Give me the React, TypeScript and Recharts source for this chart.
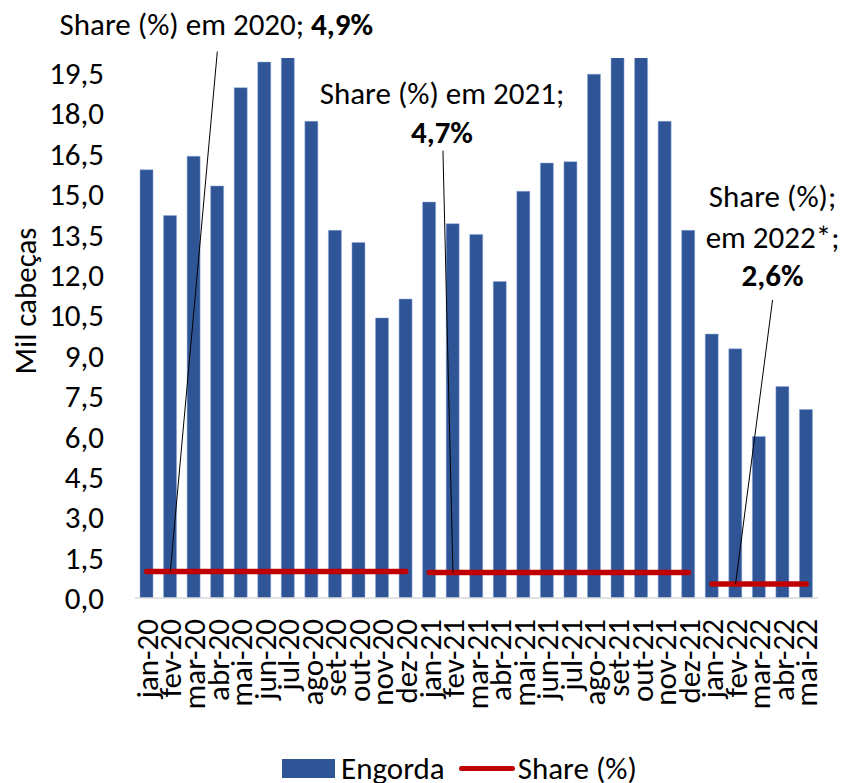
import React from "react";
import {
  ComposedChart,
  Bar,
  Line,
  XAxis,
  YAxis,
  LabelList,
} from "recharts";

const months = [
  "jan-20", "fev-20", "mar-20", "abr-20", "mai-20", "jun-20", "jul-20", "ago-20",
  "set-20", "out-20", "nov-20", "dez-20",
  "jan-21", "fev-21", "mar-21", "abr-21", "mai-21", "jun-21", "jul-21", "ago-21",
  "set-21", "out-21", "nov-21", "dez-21",
  "jan-22", "fev-22", "mar-22", "abr-22", "mai-22",
];

// mil cabeças
const engorda = [
  15.9, 14.2, 16.4, 15.3, 18.95, 19.9, 20.6, 17.7,
  13.65, 13.2, 10.4, 11.1,
  14.7, 13.9, 13.5, 11.75, 15.1, 16.15, 16.2, 19.45,
  20.7, 20.6, 17.7, 13.65,
  9.8, 9.25, 6.0, 7.85, 7.0,
];

// share anual (%)
const shareYears = ["20", "21", "22"];
const shareValues = [4.9, 4.7, 2.6];

const yTicks = [0, 1.5, 3, 4.5, 6, 7.5, 9, 10.5, 12, 13.5, 15, 16.5, 18, 19.5];

const FONT = "Carlito, 'Liberation Sans', Arial, sans-serif";
const FS = 31;
const BLUE = "#2F5597";
const RED = "#C00000";

const data = months.map((m, i) => {
  const row: Record<string, string | number | null> = { month: m, engorda: engorda[i] };
  shareYears.forEach((yr, k) => {
    row[`s${yr}`] = m.endsWith(yr) ? shareValues[k] : null;
  });
  return row;
});

const fmt = (v: number) => v.toFixed(1).replace(".", ",");

// annotation layout: offsets from the labelled point
const annotations = [
  { at: "fev-20", lineTo: [47, -520], textX: 46, lines: [["Share (%) em 2020; ", true]], baselines: [-537] },
  { at: "fev-21", lineTo: [-10, -422], textX: -11, lines: [["Share (%) em 2021;", false], ["", true]], baselines: [-469, -430] },
  { at: "fev-22", lineTo: [37, -284], textX: 37, lines: [["Share (%);", false], ["em 2022*;", false], ["", true]], baselines: [-377, -336, -298] },
];

const makeAnno = (idx: number) => (props: any) => {
  const { x, y, index, value } = props;
  const a = annotations[idx];
  if (months[index] !== a.at || value == null) return null;
  const pct = `${fmt(value)}%`;
  return (
    <g>
      <line x1={x} y1={y} x2={x + a.lineTo[0]} y2={y + a.lineTo[1]} stroke="#000" strokeWidth={1} />
      {a.lines.map(([t, withPct], i) => (
        <text
          key={i}
          x={x + a.textX}
          y={y + a.baselines[i]}
          textAnchor="middle"
          fontFamily={FONT}
          fontSize={FS}
          fill="#000"
        >
          {t as string}
          {withPct ? <tspan fontWeight="bold">{pct}</tspan> : null}
        </text>
      ))}
    </g>
  );
};

const XTick = (props: any) => {
  const { x, y, payload } = props;
  return (
    <text
      transform={`rotate(-90, ${x}, ${y + 13})`}
      x={x}
      y={y + 13}
      dy="0.36em"
      textAnchor="end"
      fontFamily={FONT}
      fontSize={FS}
      fill="#000"
    >
      {payload.value}
    </text>
  );
};

const YTick = (props: any) => {
  const { x, y, payload } = props;
  return (
    <text x={x - 23} y={y} dy="0.36em" textAnchor="end" fontFamily={FONT} fontSize={FS} fill="#000">
      {fmt(payload.value)}
    </text>
  );
};

const YTitle = (props: any) => {
  const { viewBox } = props;
  const cx = 25;
  const cy = viewBox.y + viewBox.height / 2 - 27;
  return (
    <text
      transform={`rotate(-90, ${cx}, ${cy})`}
      x={cx}
      y={cy}
      dy="0.36em"
      textAnchor="middle"
      fontFamily={FONT}
      fontSize={FS}
      fill="#000"
    >
      Mil cabeças
    </text>
  );
};

export default function App() {
  return (
    <div style={{ position: "absolute", left: 0, top: 0, width: 842, height: 783, background: "#fff" }}>
      <ComposedChart
        width={842}
        height={783}
        data={data}
        margin={{ top: 58, right: 24, left: 0, bottom: 35 }}
      >
        <XAxis
          dataKey="month"
          interval={0}
          tick={<XTick />}
          tickLine={false}
          axisLine={{ stroke: "#D9D9D9", strokeWidth: 1.5 }}
          height={150}
        />
        <YAxis
          width={135}
          domain={[0, 20.05]}
          ticks={yTicks}
          allowDataOverflow
          axisLine={false}
          tickLine={false}
          tick={<YTick />}
          label={<YTitle />}
        />
        <YAxis yAxisId="share" orientation="right" hide domain={[0, 100]} />
        <Bar dataKey="engorda" name="Engorda" fill={BLUE} stroke="#8FAADC" strokeWidth={0.5} barSize={13} isAnimationActive={false} />
        {shareYears.map((yr, k) => (
          <Line
            key={yr}
            yAxisId="share"
            dataKey={`s${yr}`}
            name="Share (%)"
            stroke={RED}
            strokeWidth={5.5}
            strokeLinecap="round"
            dot={false}
            activeDot={false}
            connectNulls={false}
            isAnimationActive={false}
          >
            <LabelList dataKey={`s${yr}`} content={makeAnno(k)} />
          </Line>
        ))}
      </ComposedChart>
      <div
        style={{
          position: "absolute",
          left: 282,
          top: 749,
          display: "flex",
          alignItems: "center",
          fontFamily: FONT,
          fontSize: FS,
          lineHeight: "38px",
          color: "#000",
          whiteSpace: "nowrap",
        }}
      >
        <span style={{ display: "inline-block", width: 53, height: 19, background: BLUE, marginRight: 6 }} />
        <span>Engorda</span>
        <span style={{ display: "inline-block", width: 56, height: 5, background: RED, borderRadius: 3, margin: "0 3px 0 14px" }} />
        <span>Share (%)</span>
      </div>
    </div>
  );
}
